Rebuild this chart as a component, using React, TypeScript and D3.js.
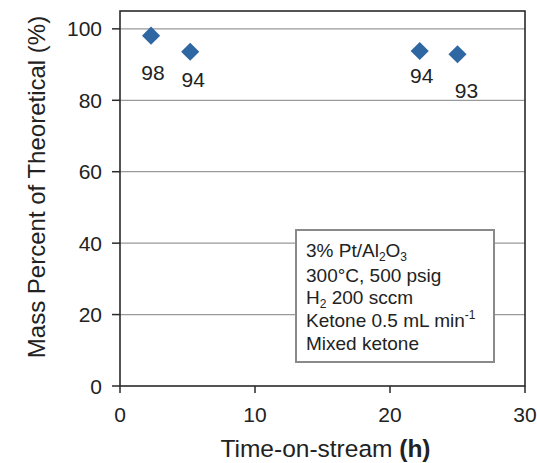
import React from "react";
import * as d3 from "d3";

const times = [2.3, 5.2, 22.2, 25.0];
const values = [98.1, 93.6, 93.8, 92.9];
const pointLabels = ["98", "94", "94", "93"];
const labelDx = [2, 3, 2, 9];
const labelDy = [44, 35, 32, 44];
const xTicks = [0, 10, 20, 30];
const yTicks = [0, 20, 40, 60, 80, 100];

const W = 537;
const H = 463;
const L = 120, R = 525, T = 11, B = 386;
const FONT = "'Liberation Sans', Arial, Helvetica, sans-serif";
const TXT = "#222";

export default function App() {
  const x = d3.scaleLinear().domain([0, 30]).range([L, R]);
  const y = d3.scaleLinear().domain([0, 105]).range([B, T]);
  const diamond = d3.symbol().type(d3.symbolDiamond2).size(210)();

  const lx = 296, ly = 230, lw = 198, lh = 132;
  return (
    <svg width={W} height={H} style={{ position: "absolute", left: 0, top: 0, background: "#fff" }} fontFamily={FONT}>
      <rect x={0} y={0} width={W} height={H} fill="#fff" />
      {yTicks.filter(t => t > 0).map(t => (
        <line key={"g" + t} x1={L} x2={R} y1={y(t)} y2={y(t)} stroke="#9a9a9a" strokeWidth={1.3} />
      ))}
      {/* legend box */}
      <rect x={lx} y={ly} width={lw} height={lh} fill="#fff" stroke="#8a8a8a" strokeWidth={2} />
      <g fontSize={19} fill={TXT}>
        <text x={lx + 10} y={ly + 27}>
          3% Pt/Al<tspan fontSize={12} dy={4}>2</tspan><tspan dy={-4}>O</tspan><tspan fontSize={12} dy={4}>3</tspan>
        </text>
        <text x={lx + 10} y={ly + 52}>300°C, 500 psig</text>
        <text x={lx + 10} y={ly + 74}>
          H<tspan fontSize={12} dy={4}>2</tspan><tspan dy={-4}> 200 sccm</tspan>
        </text>
        <text x={lx + 10} y={ly + 97}>
          Ketone 0.5 mL min<tspan fontSize={12} dy={-8}>-1</tspan>
        </text>
        <text x={lx + 10} y={ly + 120}>Mixed ketone</text>
      </g>
      {/* frame */}
      <rect x={L} y={T} width={R - L} height={B - T} fill="none" stroke="#2a2a2a" strokeWidth={1.6} />
      {/* y ticks */}
      {yTicks.map(t => (
        <g key={"y" + t}>
          <line x1={L - 8} x2={L} y1={y(t)} y2={y(t)} stroke="#2a2a2a" strokeWidth={1.5} />
          <text x={L - 18} y={y(t)} dy="0.36em" textAnchor="end" fontSize={21} fill={TXT}>{t}</text>
        </g>
      ))}
      {/* x ticks */}
      {xTicks.map(t => (
        <g key={"x" + t}>
          <line x1={x(t)} x2={x(t)} y1={B} y2={B + 7} stroke="#2a2a2a" strokeWidth={1.5} />
          <text x={x(t)} y={B + 36} textAnchor="middle" fontSize={21} fill={TXT}>{t}</text>
        </g>
      ))}
      {/* points */}
      {times.map((t, i) => (
        <g key={"p" + i}>
          <path d={diamond} transform={`translate(${x(t)},${y(values[i])})`} fill="#2f67a3" />
          <text x={x(t) + labelDx[i]} y={y(values[i]) + labelDy[i]} textAnchor="middle" fontSize={21} fill={TXT}>
            {pointLabels[i]}
          </text>
        </g>
      ))}
      {/* axis titles */}
      <text x={(L + R) / 2 + 3} y={457} textAnchor="middle" fontSize={24.5} fill={TXT}>
        Time-on-stream <tspan fontWeight="bold">(h)</tspan>
      </text>
      <text transform={`translate(45,187) rotate(-90)`} textAnchor="middle" fontSize={24} fill={TXT}>
        Mass Percent of Theoretical (%)
      </text>
    </svg>
  );
}
